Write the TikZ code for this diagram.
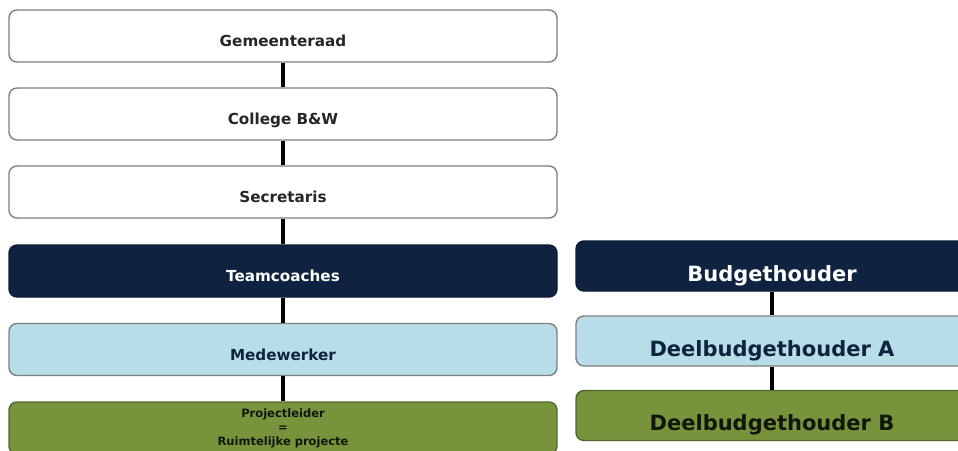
\documentclass[tikz,border=0pt]{standalone}
\usepackage{fontspec}
\setmainfont{DejaVu Sans}
\usetikzlibrary{positioning}
\definecolor{navy}{HTML}{0F2340}
\definecolor{lichtblauw}{HTML}{B7DDE8}
\definecolor{olijf}{HTML}{77933C}
\definecolor{rand}{HTML}{7F7F7F}
\tikzset{
  blok/.style={draw=rand, line width=1.4pt, rounded corners=8pt, minimum width=548pt, minimum height=52pt, inner sep=0pt, font=\fontsize{15.2}{17}\selectfont\bfseries},
  omlaag/.style={text height=21pt, text depth=0pt},
  wit/.style={blok, fill=white, text=black!85},
  donker/.style={blok, fill=navy, draw=navy!80!black, text=white},
  licht/.style={blok, fill=lichtblauw, text=navy},
  groen/.style={blok, fill=olijf, draw=olijf!70!black, text=black!85!olijf},
  groot/.style={minimum width=392pt, minimum height=50pt, text height=30pt, text depth=0pt, font=\fontsize{21}{24}\selectfont\bfseries},
  lijn/.style={line width=3.2pt, black}
}
\begin{document}
\begin{tikzpicture}[x=1pt, y=-1pt]
\clip (0,0) rectangle (958,450);
\fill[white] (0,0) rectangle (958,450);

% linker kolom
\node[wit, omlaag] (raad) at (283,36) {Gemeenteraad};
\node[wit, omlaag] (college) at (283,114) {College B\&W};
\node[wit, omlaag] (secretaris) at (283,192) {Secretaris};
\node[donker, omlaag] (coaches) at (283,271) {Teamcoaches};
\node[licht, omlaag] (medewerker) at (283,349.5) {Medewerker};
\node[groen, align=center, font=\fontsize{11.5}{14}\selectfont\bfseries] (projectleider) at (283,428) {Projectleider\\=\\Ruimtelijke projecte};

\draw[lijn] (raad) -- (college);
\draw[lijn] (college) -- (secretaris);
\draw[lijn] (secretaris) -- (coaches);
\draw[lijn] (coaches) -- (medewerker);
\draw[lijn] (medewerker) -- (projectleider);

% rechter kolom
\node[donker, groot] (budget) at (772,266) {Budgethouder};
\node[licht, groot] (deelA) at (772,341) {Deelbudgethouder A};
\node[groen, groot] (deelB) at (772,415.5) {Deelbudgethouder B};

\draw[lijn] (budget) -- (deelA);
\draw[lijn] (deelA) -- (deelB);
\end{tikzpicture}
\end{document}
